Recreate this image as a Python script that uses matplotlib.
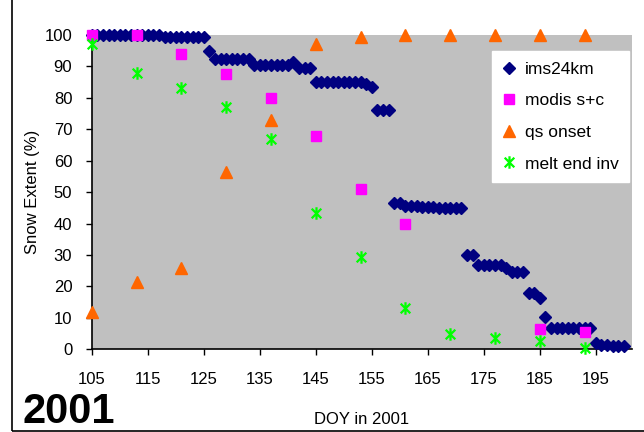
import numpy as np
import matplotlib
matplotlib.use("Agg")
import matplotlib.pyplot as plt
from matplotlib.path import Path
from matplotlib.patches import Rectangle

plt.rcParams['font.family'] = ['Liberation Sans', 'DejaVu Sans']

# ims24km daily snow extent
ims_doy = list(range(105, 201))
ims_val = ([100] * 13 + [99.5] * 8 + [95] + [92.5] * 7 + [90.5] * 7 + [91.5]
           + [89.5] * 3 + [85] * 9 + [84.5, 83.5] + [76.2] * 3 + [46.5] * 2
           + [45.6, 45.5, 45.5, 45.4, 45.3, 45.2, 45.1, 45.0, 44.9, 44.9, 44.8]
           + [30] * 2 + [26.7] * 5 + [26] + [24.5] * 3 + [18] * 2 + [16.3, 10.3]
           + [6.8] * 8 + [2, 1.5, 1.3, 1.2, 1.2, 1.2])

# modis s+c (8-day)
modis_doy = [105, 113, 121, 129, 137, 145, 153, 161, 185, 193]
modis_val = [100, 100, 94, 87.5, 80, 68, 51, 40, 6.5, 5.5]

# qs onset
qs_doy = [105, 113, 121, 129, 137, 145, 153, 161, 169, 177, 185, 193]
qs_val = [12, 21.5, 26, 56.5, 73, 97, 99.5, 100, 100, 100, 100, 100]

# melt end inv
melt_doy = [105, 113, 121, 129, 137, 145, 153, 161, 169, 177, 185, 193]
melt_val = [97, 88, 83, 77, 67, 43.5, 29.5, 13, 5, 3.5, 2.5, 0.5]

# asterisk marker like excel's star (x plus vertical bar)
star = Path([(-1, -1), (1, 1), (-1, 1), (1, -1), (0, -1.3), (0, 1.3)],
            [Path.MOVETO, Path.LINETO, Path.MOVETO, Path.LINETO, Path.MOVETO, Path.LINETO])

fig = plt.figure(figsize=(6.44, 4.32), dpi=100)
ax = fig.add_axes([91.7 / 644, 1 - 349.3 / 432, 540 / 644, 314.3 / 432])
ax.set_facecolor('#C0C0C0')

ax.plot(ims_doy, ims_val, ls='none', marker='D', ms=6, color='#000080',
        mec='#000080', label='ims24km', clip_on=False, zorder=3)
ax.plot(modis_doy, modis_val, ls='none', marker='s', ms=7.4, color='#FF00FF',
        mec='#FF00FF', label='modis s+c', clip_on=False, zorder=4)
ax.plot(qs_doy, qs_val, ls='none', marker='^', ms=8, color='#FF6600',
        mec='#FF6600', label='qs onset', clip_on=False, zorder=5)
ax.plot(melt_doy, melt_val, ls='none', marker=star, ms=9, mfc='none', mew=1.6,
        mec='#00FF00', color='#00FF00', label='melt end inv', clip_on=False, zorder=6)

ax.set_xlim(105, 201.4)
ax.set_ylim(0, 100)
ax.set_xticks(np.arange(105, 196, 10))
ax.set_yticks(np.arange(0, 101, 10))
ax.tick_params(direction='out', length=4, width=1, labelsize=12)
ax.tick_params(axis='x', pad=12)
ax.tick_params(axis='y', pad=10)
for s in ['top', 'right']:
    ax.spines[s].set_visible(False)
ax.spines['left'].set_linewidth(1.2)
ax.spines['bottom'].set_linewidth(1.2)

ax.set_xlabel('DOY in 2001', fontsize=12, labelpad=18)
ax.set_ylabel('Snow Extent (%)', fontsize=12, labelpad=3)

leg = ax.legend(loc='upper right', bbox_to_anchor=(0.995, 0.949), fontsize=12.5,
                frameon=True, fancybox=False, framealpha=1, facecolor='white',
                edgecolor='white', handlelength=0.8, handletextpad=0.5,
                labelspacing=0.95, borderpad=0.6, borderaxespad=0)

fig.text(22 / 644, 0, '2001', fontsize=30, fontweight='bold', va='bottom')

# chart area border
fig.patches.append(Rectangle((12 / 644, 1 / 432), 2, 2, transform=fig.transFigure,
                             fill=False, edgecolor='black', lw=1.2))

fig.savefig('out.png', dpi=100)
